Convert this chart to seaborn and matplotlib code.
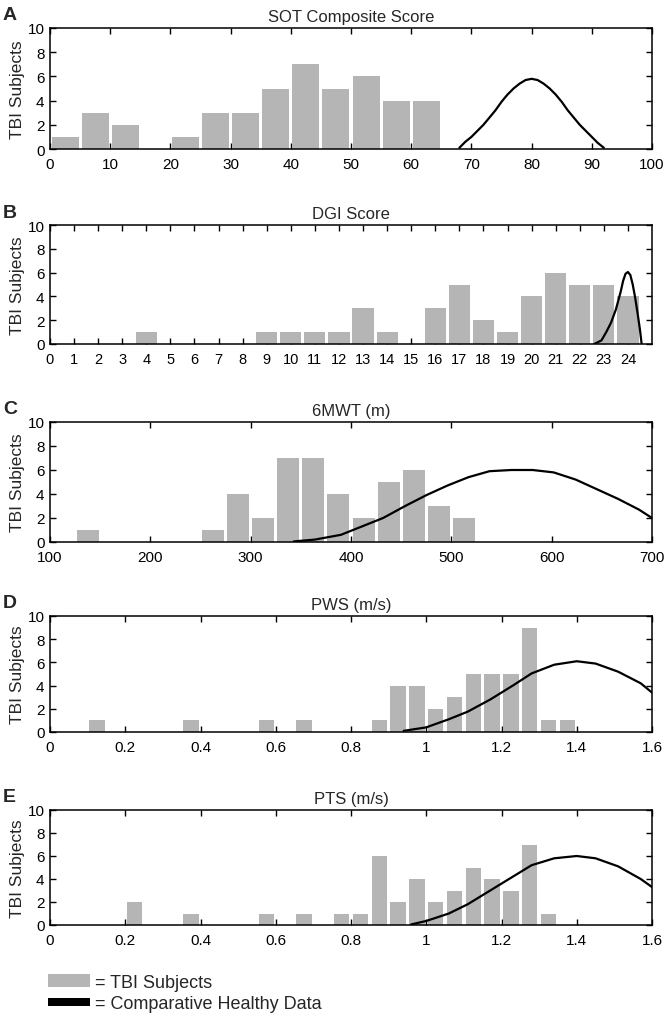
import matplotlib
matplotlib.use("Agg")
import matplotlib.pyplot as plt
import numpy as np
import pandas as pd
import seaborn as sns
from matplotlib.patches import Patch
from matplotlib.ticker import FixedLocator, FuncFormatter, MultipleLocator

# --- data ---
sot_centers = [2.5, 7.5, 12.5, 22.5, 27.5, 32.5, 37.5, 42.5, 47.5, 52.5, 57.5, 62.5]
sot_counts = [1, 3, 2, 1, 3, 3, 5, 7, 5, 6, 4, 4]
sot_curve_x = [68, 69, 70, 71, 72, 73, 74, 75, 76, 77, 78, 79, 80, 81, 82, 83, 84, 85, 86,
               87, 88, 89, 90, 91, 92]
sot_curve_y = [0.1, 0.6, 1.0, 1.5, 2.0, 2.6, 3.2, 3.9, 4.5, 5.0, 5.4, 5.7, 5.8, 5.7, 5.4,
               5.0, 4.5, 3.9, 3.2, 2.6, 2.0, 1.5, 1.0, 0.5, 0.1]

dgi_centers = [4, 9, 10, 11, 12, 13, 14, 16, 17, 18, 19, 20, 21, 22, 23, 24]
dgi_counts = [1, 1, 1, 1, 1, 3, 1, 3, 5, 2, 1, 4, 6, 5, 5, 4]
dgi_curve_x = [22.6, 22.9, 23.1, 23.3, 23.5, 23.7, 23.8, 23.9, 24.0, 24.1, 24.2, 24.3, 24.4, 24.5, 24.57]
dgi_curve_y = [0.0, 0.3, 1.0, 1.8, 2.9, 4.4, 5.3, 5.9, 6.05, 5.8, 5.0, 3.9, 2.6, 1.2, 0.0]

mwt_centers = [137.5, 262.5, 287.5, 312.5, 337.5, 362.5, 387.5, 412.5, 437.5, 462.5, 487.5, 512.5]
mwt_counts = [1, 1, 4, 2, 7, 7, 4, 2, 5, 6, 3, 2]
mwt_curve_x = [343, 364, 390, 411, 432, 454, 475, 496, 517, 538, 560, 581, 602, 624, 645, 666, 687, 700]
mwt_curve_y = [0.05, 0.2, 0.6, 1.3, 2.0, 3.0, 3.9, 4.7, 5.4, 5.9, 6.0, 6.0, 5.8, 5.2, 4.4, 3.6, 2.7, 2.0]

pws_centers = [0.125, 0.375, 0.575, 0.675, 0.875, 0.925, 0.975, 1.025, 1.075, 1.125, 1.175,
               1.225, 1.275, 1.325, 1.375]
pws_counts = [1, 1, 1, 1, 1, 4, 4, 2, 3, 5, 5, 5, 9, 1, 1]
pws_curve_x = [0.94, 1.0, 1.06, 1.11, 1.17, 1.23, 1.28, 1.34, 1.40, 1.45, 1.51, 1.57, 1.6]
pws_curve_y = [0.1, 0.4, 1.1, 1.75, 2.8, 4.0, 5.05, 5.8, 6.1, 5.9, 5.2, 4.2, 3.4]

pts_centers = [0.225, 0.375, 0.575, 0.675, 0.775, 0.825, 0.875, 0.925, 0.975, 1.025, 1.075,
               1.125, 1.175, 1.225, 1.275, 1.325]
pts_counts = [2, 1, 1, 1, 1, 1, 6, 2, 4, 2, 3, 5, 4, 3, 7, 1]
pts_curve_x = [0.96, 1.0, 1.06, 1.11, 1.17, 1.23, 1.28, 1.34, 1.40, 1.45, 1.51, 1.57, 1.6]
pts_curve_y = [0.05, 0.35, 1.0, 1.8, 3.0, 4.2, 5.2, 5.8, 6.0, 5.8, 5.1, 4.0, 3.3]

titles = ["SOT Composite Score", "DGI Score", "6MWT (m)", "PWS (m/s)", "PTS (m/s)"]
letters = ["A", "B", "C", "D", "E"]
dgi_ticks = list(range(0, 25))

sns.set_theme(style="ticks")
plt.rcParams["font.family"] = ["Liberation Sans", "DejaVu Sans"]

BAR = "#b5b5b5"
FS = 11

panels = [
    dict(c=sot_centers, n=sot_counts, cx=sot_curve_x, cy=sot_curve_y, bw=5, shrink=0.9,
         xlim=(0, 100), step=10),
    dict(c=dgi_centers, n=dgi_counts, cx=dgi_curve_x, cy=dgi_curve_y, bw=1, shrink=0.88,
         xlim=(0, 25), step=None),
    dict(c=mwt_centers, n=mwt_counts, cx=mwt_curve_x, cy=mwt_curve_y, bw=25, shrink=0.88,
         xlim=(100, 700), step=100),
    dict(c=pws_centers, n=pws_counts, cx=pws_curve_x, cy=pws_curve_y, bw=0.05, shrink=0.82,
         xlim=(0, 1.6), step=0.2),
    dict(c=pts_centers, n=pts_counts, cx=pts_curve_x, cy=pts_curve_y, bw=0.05, shrink=0.82,
         xlim=(0, 1.6), step=0.2),
]

# axes boxes in pixels (top, bottom) of a 666x1020 figure
boxes = [(29, 150), (226, 345), (423, 543), (617, 733), (811, 926)]

fig = plt.figure(figsize=(6.66, 10.2), dpi=100)
W, H = 666, 1020
for i, (p, (top, bot)) in enumerate(zip(panels, boxes)):
    ax = fig.add_axes([50 / W, 1 - bot / H, 602 / W, (bot - top) / H])
    df = pd.DataFrame({"x": p["c"], "n": p["n"]})
    lo = min(p["c"]) - p["bw"] / 2
    hi = max(p["c"]) + p["bw"] / 2
    sns.histplot(data=df, x="x", weights="n", binwidth=p["bw"], binrange=(lo, hi),
                 shrink=p["shrink"], color=BAR, alpha=1, edgecolor="none", linewidth=0, ax=ax)
    curve = pd.DataFrame({"x": p["cx"], "y": p["cy"]})
    sns.lineplot(data=curve, x="x", y="y", sort=False, estimator=None, color="black",
                 linewidth=1.6, ax=ax)
    ax.set_xlim(*p["xlim"])
    ax.set_ylim(0, 10)
    if p["step"] is None:
        ax.xaxis.set_major_locator(FixedLocator(dgi_ticks))
    else:
        ax.xaxis.set_major_locator(MultipleLocator(p["step"]))
    ax.yaxis.set_major_locator(MultipleLocator(2))
    ax.xaxis.set_major_formatter(FuncFormatter(lambda v, _: f"{v:g}"))
    ax.tick_params(direction="in", top=True, right=True, length=4, width=1,
                   labelsize=FS, colors="black", pad=6)
    ax.tick_params(axis="y", pad=4)
    if i == 1:
        ax.tick_params(axis="x", labelsize=FS - 0.5)
    for s in ax.spines.values():
        s.set_linewidth(1.1)
        s.set_color("black")
    ax.set_xlabel("")
    ax.set_ylabel("TBI Subjects", fontsize=12.5, labelpad=2)
    ax.set_title(titles[i], fontsize=12, pad=5)
    fig.text(3 / W, 1 - (top - 13) / H, letters[i], fontsize=14, fontweight="bold",
             va="center", ha="left")

handles = [Patch(facecolor=BAR, edgecolor="none"),
           Patch(facecolor="black", edgecolor="none")]
leg = fig.legend(handles, ["= TBI Subjects", "= Comparative Healthy Data"],
                 loc="upper left", bbox_to_anchor=(48 / W, 1 - 975 / H), frameon=False,
                 fontsize=13, handlelength=2.3, handleheight=0.75, handletextpad=0.3,
                 labelspacing=0.2, borderaxespad=0, borderpad=0)
# the healthy-data key is a thinner bar than the TBI key
blk = leg.legend_handles[1]
blk.set_height(blk.get_height() * 0.6)
blk.set_y(blk.get_y() + 1.5)

fig.savefig("out.png", dpi=100)
